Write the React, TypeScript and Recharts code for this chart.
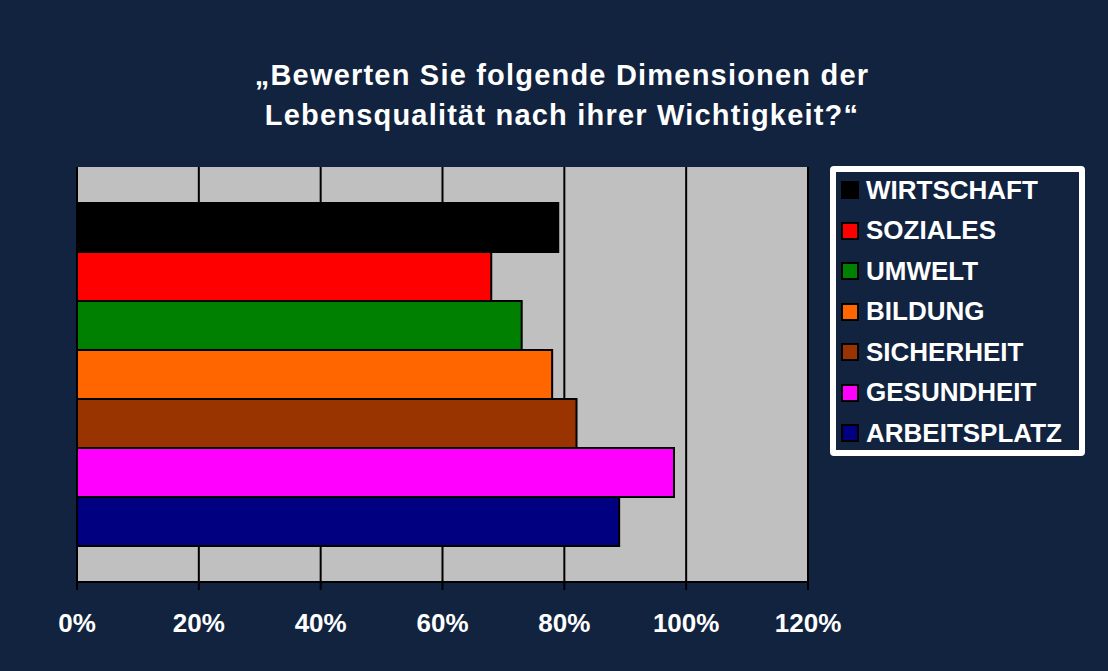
import React from "react";
import { BarChart, Bar, XAxis, YAxis, CartesianGrid, ReferenceArea } from "recharts";

const seriesNames = ["WIRTSCHAFT", "SOZIALES", "UMWELT", "BILDUNG", "SICHERHEIT", "GESUNDHEIT", "ARBEITSPLATZ"];
const seriesValues = [0.79, 0.68, 0.73, 0.78, 0.82, 0.98, 0.89];
const seriesColors = ["#000000", "#FF0000", "#008000", "#FF6600", "#993300", "#FF00FF", "#000080"];
const xTicks = [0, 0.2, 0.4, 0.6, 0.8, 1.0, 1.2];
const titleLines = ["„Bewerten Sie folgende Dimensionen der", "Lebensqualität nach ihrer Wichtigkeit?“"];

const row: Record<string, any> = { cat: "Q" };
seriesNames.forEach((n, i) => {
  row[n] = seriesValues[i];
});
const data = [row];

const BG = "#11233F";
const FONT = "'Liberation Sans', Arial, Helvetica, sans-serif";

export default function App() {
  return (
    <div
      style={{
        position: "absolute",
        left: 0,
        top: 0,
        width: 1108,
        height: 671,
        background: BG,
        fontFamily: FONT,
        overflow: "hidden",
      }}
    >
      <div
        style={{
          position: "absolute",
          left: 0,
          top: 55,
          width: 1124,
          textAlign: "center",
          color: "#FFFFFF",
          fontWeight: "bold",
          fontSize: 29,
          letterSpacing: 1.2,
          lineHeight: "40px",
        }}
      >
        {titleLines.map((t, i) => (
          <div key={i}>{t}</div>
        ))}
      </div>
      <div style={{ position: "absolute", left: 0, top: 0 }}>
        <BarChart
          width={1108}
          height={671}
          data={data}
          layout="vertical"
          margin={{ top: 167, right: 300, left: 69, bottom: 29 }}
          barCategoryGap={36}
          barGap={0}
        >
          <CartesianGrid
            horizontal={false}
            vertical={true}
            stroke="#000000"
            strokeWidth={2}
            fill="#C0C0C0"
            fillOpacity={1}
          />
          <ReferenceArea
            yAxisId="num"
            x1={0}
            x2={1.2}
            y1={0}
            y2={1}
            fill="none"
            stroke="#808080"
            strokeWidth={2}
          />
          <XAxis
            type="number"
            domain={[0, 1.2]}
            ticks={xTicks}
            tickFormatter={(v: number) => `${Math.round(v * 100)}%`}
            height={60}
            axisLine={{ stroke: "#000000", strokeWidth: 2 }}
            tickLine={{ stroke: "#000000", strokeWidth: 2 }}
            tickSize={8}
            tickMargin={24}
            tick={{ fill: "#FFFFFF", fontSize: 26, fontWeight: "bold", fontFamily: FONT }}
            interval={0}
          />
          <YAxis yAxisId="cat" type="category" dataKey="cat" hide width={0} />
          <YAxis
            yAxisId="num"
            type="number"
            domain={[0, 1]}
            ticks={[0, 1]}
            width={8}
            tickSize={8}
            tick={false}
            axisLine={{ stroke: "#000000", strokeWidth: 2 }}
            tickLine={{ stroke: "#000000", strokeWidth: 2 }}
          />
          {seriesNames.map((n, i) => (
            <Bar
              key={n}
              yAxisId="cat"
              dataKey={n}
              fill={seriesColors[i]}
              stroke="#000000"
              strokeWidth={2}
              isAnimationActive={false}
            />
          ))}
        </BarChart>
      </div>
      <div
        style={{
          position: "absolute",
          left: 830,
          top: 166,
          width: 243,
          height: 278,
          border: "6px solid #FFFFFF",
          borderRadius: 4,
          boxSizing: "content-box",
        }}
      >
        {seriesNames.map((n, i) => (
          <div
            key={n}
            style={{
              position: "absolute",
              left: 5,
              top: -2 + i * 40.5,
              display: "flex",
              alignItems: "center",
              height: 40,
            }}
          >
            <div
              style={{
                width: 14,
                height: 14,
                background: seriesColors[i],
                border: "2px solid #000000",
                marginRight: 7,
              }}
            />
            <span style={{ color: "#FFFFFF", fontWeight: "bold", fontSize: 26 }}>{n}</span>
          </div>
        ))}
      </div>
    </div>
  );
}
